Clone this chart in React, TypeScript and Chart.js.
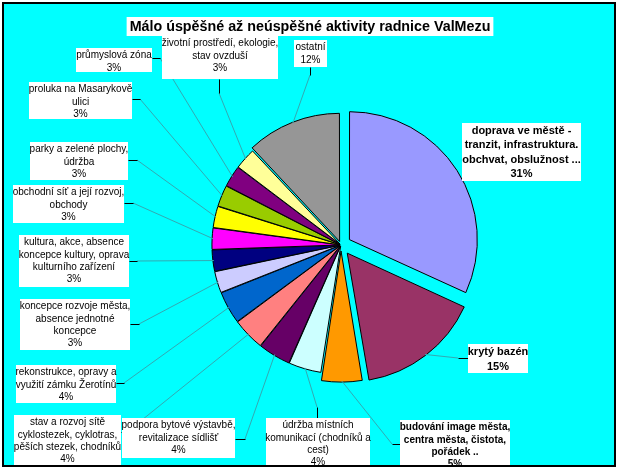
import React, { useEffect, useRef } from 'react';
import { Chart, registerables } from 'chart.js';

Chart.register(...registerables);

const TITLE = 'Málo úspěšné až neúspěšné aktivity radnice ValMezu';

const CATEGORIES = [
  'doprava ve městě -\ntranzit, infrastruktura.\nobchvat, obslužnost ...',
  'krytý bazén',
  'budování image města,\ncentra města, čistota,\npořádek ..',
  'údržba místních\nkomunikací (chodníků a\ncest)',
  'podpora bytové výstavbě,\nrevitalizace sídlišť',
  'stav a rozvoj sítě\ncyklostezek, cyklotras,\npěších stezek, chodníků',
  'rekonstrukce, opravy a\nvyužití zámku Žerotínů',
  'koncepce rozvoje města,\nabsence jednotné\nkoncepce',
  'kultura, akce, absence\nkoncepce kultury, oprava\nkulturního zařízení',
  'obchodní síť a její rozvoj,\nobchody',
  'parky a zelené plochy,\núdržba',
  'proluka na Masarykově\nulici',
  'průmyslová zóna',
  'životní prostředí, ekologie,\nstav ovzduší',
  'ostatní',
];

const VALUES = [31.6, 15.4, 5.1, 4.1, 4.1, 4.1, 4.1, 2.7, 2.7, 2.7, 2.7, 2.7, 2.7, 2.7, 11.9];

const PERCENT_LABELS = ['31%', '15%', '5%', '4%', '4%', '4%', '4%', '3%', '3%', '3%', '3%', '3%', '3%', '3%', '12%'];

const COLORS = [
  '#9999FF', '#993366', '#FF9900', '#CCFFFF', '#660066', '#FF8080', '#0066CC',
  '#CCCCFF', '#000080', '#FF00FF', '#FFFF00', '#99CC00', '#800080', '#FFFF99', '#969696',
];

// Chart.js arc offset units (translated by roughly offset/4 .. offset/2 px)
const OFFSETS = [40, 41, 24, 4.5, 4.5, 4.5, 4.5, 4.5, 4.5, 4.5, 4.5, 4.5, 4.5, 4.5, 15];

const FONT = '"Liberation Sans", Arial, sans-serif';

// label box layout: [x, y, w, h], font size, bold, line height, tick [x1,y1,x2,y2]
const LABEL_LAYOUT: { box: number[]; size: number; bold: boolean; lh: number; tick: number[] | null }[] = [
  { box: [462, 123, 119, 58], size: 11, bold: true, lh: 14.5, tick: null },
  { box: [468, 344, 60, 29], size: 11, bold: true, lh: 15, tick: [468, 358, 458, 358] },
  { box: [400, 420, 110, 52], size: 10, bold: true, lh: 12.3, tick: [400, 444, 392, 444] },
  { box: [266, 418, 104, 52], size: 10, bold: false, lh: 12.3, tick: [317, 418, 317, 407] },
  { box: [122, 418, 113, 40], size: 10, bold: false, lh: 12.3, tick: [235, 439, 245, 439] },
  { box: [14, 415, 107, 54], size: 10, bold: false, lh: 12.3, tick: [121, 432, 127, 432] },
  { box: [16, 365, 100, 38], size: 10, bold: false, lh: 12.3, tick: [116, 383, 124, 383] },
  { box: [20, 299, 110, 51], size: 10, bold: false, lh: 12.3, tick: [130, 324, 139, 324] },
  { box: [19, 235, 110, 52], size: 10, bold: false, lh: 12.3, tick: [129, 261, 137, 261] },
  { box: [13, 185, 111, 38], size: 10, bold: false, lh: 12.3, tick: [124, 203, 133, 203] },
  { box: [30, 142, 98, 38], size: 10, bold: false, lh: 12.3, tick: [128, 160, 137, 160] },
  { box: [29, 82, 103, 37], size: 10, bold: false, lh: 12.3, tick: [132, 99, 140, 99] },
  { box: [76, 48, 76, 24], size: 10, bold: false, lh: 12.3, tick: [152, 58, 160, 58] },
  { box: [162, 36, 116, 43], size: 10, bold: false, lh: 12.3, tick: [219, 79, 219, 93] },
  { box: [294, 40, 33, 27], size: 10, bold: false, lh: 12.3, tick: [310, 67, 310, 75] },
];

const FRAME = { x: 3, y: 3, w: 612, h: 463 };

const decorPlugin = {
  id: 'decor',
  beforeDraw(chart: any) {
    const ctx = chart.ctx as CanvasRenderingContext2D;
    ctx.save();
    ctx.fillStyle = '#FFFFFF';
    ctx.fillRect(0, 0, chart.width, chart.height);
    ctx.fillStyle = '#00FFFF';
    ctx.fillRect(FRAME.x, FRAME.y, FRAME.w, FRAME.h);
    ctx.restore();
  },
  afterDraw(chart: any) {
    const ctx = chart.ctx as CanvasRenderingContext2D;
    const meta = chart.getDatasetMeta(0);
    ctx.save();
    ctx.beginPath();
    ctx.rect(FRAME.x, FRAME.y, FRAME.w, FRAME.h);
    ctx.clip();

    // leader lines
    ctx.strokeStyle = '#33A9B2';
    ctx.lineWidth = 1;
    meta.data.forEach((el: any, i: number) => {
      const lay = LABEL_LAYOUT[i];
      if (!lay.tick) return;
      const p = el.getProps(['x', 'y', 'startAngle', 'endAngle', 'outerRadius', 'circumference'], true);
      const mid = (p.startAngle + p.endAngle) / 2;
      const off = (el.options.offset || 0) / 4;
      const fix = 1 - Math.sin(Math.min(Math.PI, p.circumference || 0));
      const disp = off * (1 + fix);
      const r = p.outerRadius + disp - 1;
      const ex = p.x + Math.cos(mid) * r;
      const ey = p.y + Math.sin(mid) * r;
      ctx.beginPath();
      ctx.moveTo(lay.tick[2], lay.tick[3]);
      ctx.lineTo(ex, ey);
      ctx.stroke();
    });

    // ticks
    ctx.strokeStyle = '#000000';
    LABEL_LAYOUT.forEach((lay) => {
      if (!lay.tick) return;
      ctx.beginPath();
      ctx.moveTo(lay.tick[0] + 0.5, lay.tick[1] + 0.5);
      ctx.lineTo(lay.tick[2] + 0.5, lay.tick[3] + 0.5);
      ctx.stroke();
    });

    // label boxes and text
    ctx.textAlign = 'center';
    ctx.textBaseline = 'middle';
    LABEL_LAYOUT.forEach((lay, i) => {
      const [bx, by, bw, bh] = lay.box;
      ctx.fillStyle = '#FFFFFF';
      ctx.fillRect(bx, by, bw, bh);
      ctx.fillStyle = '#000000';
      ctx.font = `${lay.bold ? 'bold ' : ''}${lay.size}px ${FONT}`;
      const lines = [...CATEGORIES[i].split('\n'), PERCENT_LABELS[i]];
      lines.forEach((t, k) => {
        ctx.fillText(t, bx + bw / 2, by + 7.5 + k * lay.lh);
      });
    });

    // title
    ctx.font = `bold 14.3px ${FONT}`;
    const tw = ctx.measureText(TITLE).width;
    ctx.fillStyle = '#FFFFFF';
    ctx.fillRect(310 - tw / 2 - 3, 17, tw + 6, 19);
    ctx.fillStyle = '#000000';
    ctx.fillText(TITLE, 310, 27);
    ctx.restore();

    // frame
    ctx.save();
    ctx.strokeStyle = '#000000';
    ctx.lineWidth = 2;
    ctx.strokeRect(FRAME.x, FRAME.y, FRAME.w, FRAME.h);
    ctx.restore();
  },
};

export default function App() {
  const ref = useRef<HTMLCanvasElement>(null);
  useEffect(() => {
    const chart = new Chart(ref.current as HTMLCanvasElement, {
      type: 'pie',
      data: {
        labels: CATEGORIES,
        datasets: [
          {
            data: VALUES,
            backgroundColor: COLORS,
            borderColor: '#000000',
            borderWidth: 1,
            offset: OFFSETS,
            radius: 127,
          } as any,
        ],
      },
      options: {
        responsive: false,
        animation: false,
        layout: { padding: { left: 62, right: 0, top: 20, bottom: 0 } },
        plugins: {
          legend: { display: false },
          tooltip: { enabled: false },
          title: { display: false },
        },
      },
      plugins: [decorPlugin],
    });
    return () => chart.destroy();
  }, []);
  return (
    <div style={{ position: 'fixed', left: 0, top: 0, width: 620, height: 470 }}>
      <canvas ref={ref} width={620} height={470} style={{ display: 'block', width: 620, height: 470 }} />
    </div>
  );
}
